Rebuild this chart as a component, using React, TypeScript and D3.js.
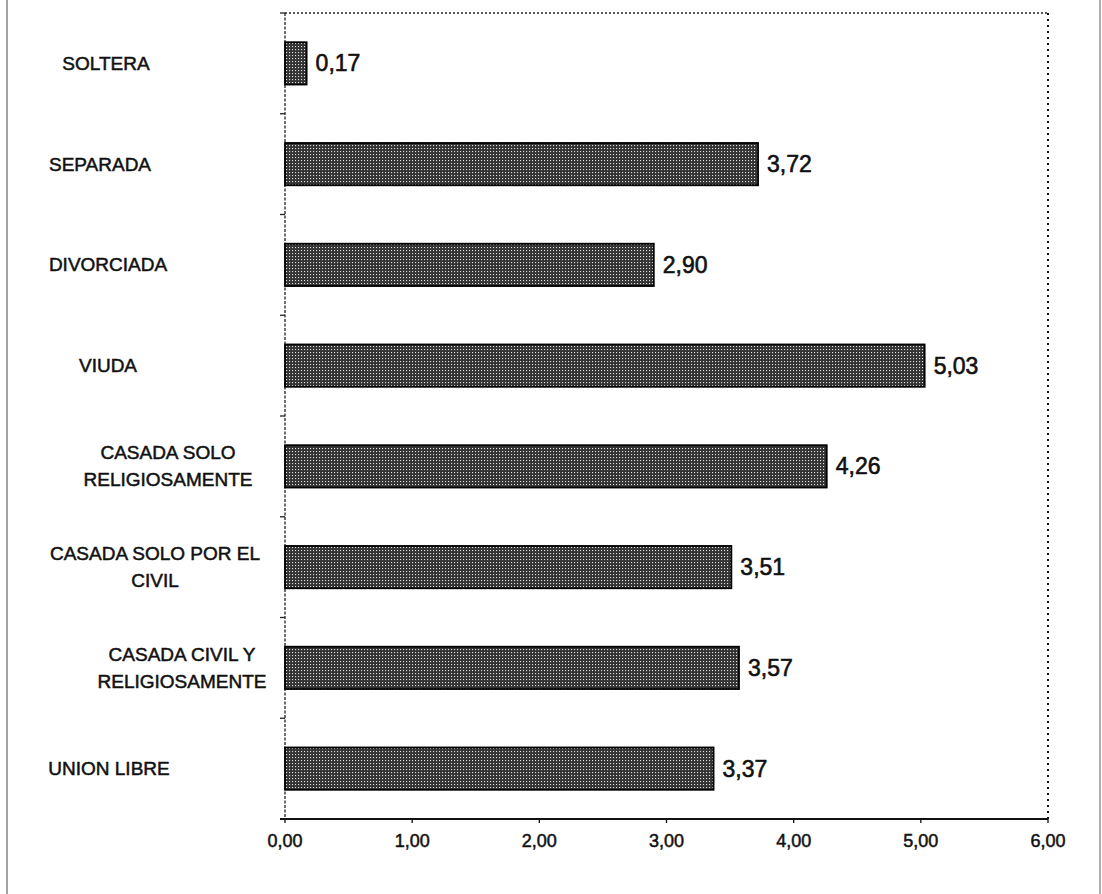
import React from "react";
import * as d3 from "d3";

const categories = [
  "SOLTERA",
  "SEPARADA",
  "DIVORCIADA",
  "VIUDA",
  "CASADA SOLO\nRELIGIOSAMENTE",
  "CASADA SOLO POR EL\nCIVIL",
  "CASADA CIVIL Y\nRELIGIOSAMENTE",
  "UNION LIBRE",
];
const values = [0.17, 3.72, 2.9, 5.03, 4.26, 3.51, 3.57, 3.37];
const xTicks = [0, 1, 2, 3, 4, 5, 6];

// layout (label centre x per category, as placed in the original)
const labelCenterX = [106, 100, 108, 108, 168, 155, 182, 109];

const W = 1102;
const H = 894;
const M = { left: 285, right: 1048, top: 13, bottom: 819 };

const fmt = (v: number) => v.toFixed(2).replace(".", ",");

export default function App() {
  const x = d3.scaleLinear().domain([0, 6]).range([M.left, M.right]);
  const y = d3
    .scaleBand<string>()
    .domain(categories)
    .range([M.top, M.bottom])
    .paddingInner(0.58)
    .paddingOuter(0.29);
  const font = "Arial, 'Liberation Sans', sans-serif";

  const boundaries = d3
    .range(1, categories.length)
    .map((i) => M.top + (M.bottom - M.top) * (i / categories.length));

  return (
    <svg
      width={W}
      height={H}
      style={{ position: "absolute", left: 0, top: 0, display: "block", background: "#fff" }}
    >
      <defs>
        <pattern id="dots" width="3" height="3" patternUnits="userSpaceOnUse">
          <rect width="3" height="3" fill="#333" />
          <rect x="1" y="1" width="1.1" height="1.1" fill="#e0e0e0" />
        </pattern>
      </defs>

      {/* page frame lines from scan */}
      <line x1={7} x2={7} y1={0} y2={H} stroke="#666" strokeWidth={1.2} />
      <line x1={1100} x2={1100} y1={0} y2={H} stroke="#777" strokeWidth={1.2} />

      {/* top dotted border */}
      <line x1={M.left} x2={M.right} y1={M.top} y2={M.top} stroke="#222" strokeWidth={1.3} strokeDasharray="2,2" />
      {/* right dotted border */}
      <line x1={M.right} x2={M.right} y1={M.top} y2={M.bottom} stroke="#111" strokeWidth={2} strokeDasharray="2,4" />
      {/* left axis */}
      <line x1={M.left} x2={M.left} y1={M.top} y2={M.bottom} stroke="#222" strokeWidth={1.3} strokeDasharray="3,1.5" />
      {[M.top, ...boundaries, M.bottom].map((b, i) => (
        <line key={"lt" + i} x1={M.left - 5} x2={M.left} y1={b} y2={b} stroke="#222" strokeWidth={1.3} />
      ))}
      {/* bottom axis */}
      <line x1={M.left - 5} x2={M.right} y1={M.bottom} y2={M.bottom} stroke="#111" strokeWidth={2} />
      {xTicks.map((t) => (
        <g key={"xt" + t}>
          <line x1={x(t)} x2={x(t)} y1={M.bottom} y2={M.bottom + 4} stroke="#111" strokeWidth={1.3} />
          <text
            x={x(t)}
            y={847}
            textAnchor="middle"
            fontFamily={font}
            fontSize={18}
            fill="#111"
            stroke="#111"
            strokeWidth={0.5}
          >
            {fmt(t)}
          </text>
        </g>
      ))}

      {/* bars */}
      {categories.map((c, i) => {
        const y0 = y(c)!;
        const bw = y.bandwidth();
        return (
          <g key={c}>
            <rect
              x={x(0)}
              y={y0}
              width={x(values[i]) - x(0)}
              height={bw}
              fill="url(#dots)"
              stroke="#000"
              strokeWidth={1.8}
            />
            <text
              x={x(values[i]) + 9}
              y={y0 + bw / 2}
              dominantBaseline="central"
              fontFamily={font}
              fontSize={23}
              fill="#111"
              stroke="#111"
              strokeWidth={0.6}
            >
              {fmt(values[i])}
            </text>
          </g>
        );
      })}

      {/* category labels */}
      {categories.map((c, i) => {
        const lines = c.split("\n");
        const cy = y(c)! + y.bandwidth() / 2;
        const lh = 27;
        return (
          <text
            key={"lab" + c}
            textAnchor="middle"
            fontFamily={font}
            fontSize={19}
            fill="#111"
            stroke="#111"
            strokeWidth={0.5}
          >
            {lines.map((l, j) => (
              <tspan
                key={j}
                x={labelCenterX[i]}
                y={cy + (j - (lines.length - 1) / 2) * lh}
                dominantBaseline="central"
              >
                {l}
              </tspan>
            ))}
          </text>
        );
      })}
    </svg>
  );
}
